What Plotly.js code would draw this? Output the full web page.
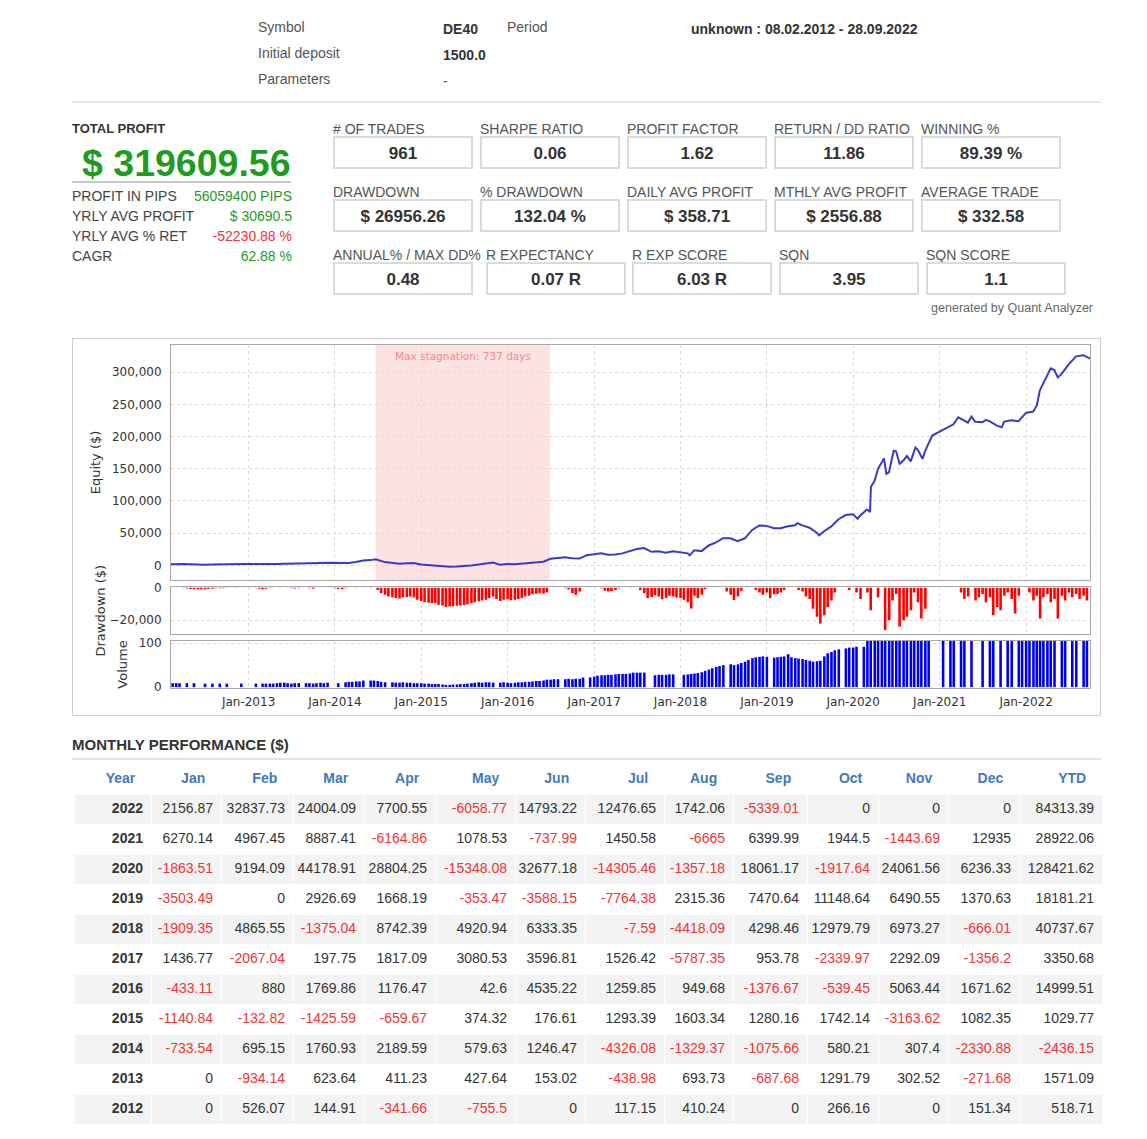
<!DOCTYPE html>
<html><head><meta charset="utf-8">
<script src="https://cdn.plot.ly/plotly-3.0.1.min.js"></script>
<style>
html,body{margin:0;padding:0;background:#fff;}
body{width:1147px;height:1139px;position:relative;overflow:hidden;font-family:'Liberation Sans',Arial,Helvetica,sans-serif;color:#333;}
.t{position:absolute;white-space:nowrap;line-height:20px;height:20px;}
.lab{font-size:14px;color:#555;}
.bold{font-weight:bold;color:#333;font-size:14px;}
.box{position:absolute;box-sizing:border-box;width:140px;height:33px;border:2px solid #dadada;text-align:center;line-height:32px;font-size:17px;font-weight:bold;color:#333;}
.hr{position:absolute;height:2px;background:#e6e6e6;}
#chartFrame{position:absolute;left:72px;top:338px;width:1029px;height:378px;box-sizing:border-box;border:1px solid #cfcfcf;}
#chart{position:absolute;left:73px;top:339px;width:1027px;height:376px;}
#table{position:absolute;left:74px;top:764px;width:1028px;height:375px;}
</style></head><body>
<div id="chartFrame"></div>
<div id="chart"></div>
<div id="table"></div>
<script>
// ---------------- header data ----------------
const headerInfo = [['Symbol', 'DE40'], ['Initial deposit', '1500.0'], ['Parameters', '-']];
const periodLabel = 'Period';
const periodValue = 'unknown : 08.02.2012 - 28.09.2022';
const totalProfitLabel = 'TOTAL PROFIT';
const totalProfit = '$ 319609.56';
const sideStats = [['PROFIT IN PIPS', '56059400 PIPS'], ['YRLY AVG PROFIT', '$ 30690.5'], ['YRLY AVG % RET', '-52230.88 %'], ['CAGR', '62.88 %']];
const boxStats1 = [['# OF TRADES', '961'], ['SHARPE RATIO', '0.06'], ['PROFIT FACTOR', '1.62'], ['RETURN / DD RATIO', '11.86'], ['WINNING %', '89.39 %']];
const boxStats2 = [['DRAWDOWN', '$ 26956.26'], ['% DRAWDOWN', '132.04 %'], ['DAILY AVG PROFIT', '$ 358.71'], ['MTHLY AVG PROFIT', '$ 2556.88'], ['AVERAGE TRADE', '$ 332.58']];
const boxStats3 = [['ANNUAL% / MAX DD%', '0.48'], ['R EXPECTANCY', '0.07 R'], ['R EXP SCORE', '6.03 R'], ['SQN', '3.95'], ['SQN SCORE', '1.1']];
const generatedBy = 'generated by Quant Analyzer';
const tableTitle = 'MONTHLY PERFORMANCE ($)';

// ---------------- equity curve ----------------
const eqDates = [
'2012-02-08','2012-02-29','2012-03-31','2012-04-30','2012-05-31','2012-06-30','2012-07-31','2012-08-31','2012-09-30','2012-10-31','2012-11-30','2012-12-31',
'2013-01-31','2013-02-28','2013-03-31','2013-04-30','2013-05-31','2013-06-30','2013-07-31','2013-08-31','2013-09-30','2013-10-31','2013-11-30','2013-12-31',
'2014-01-31','2014-02-28','2014-03-31','2014-04-30','2014-05-31','2014-06-22','2014-07-31','2014-08-31','2014-09-30','2014-10-31','2014-11-30','2014-12-31',
'2015-01-31','2015-02-28','2015-03-31','2015-04-30','2015-05-31','2015-06-30','2015-07-31','2015-08-31','2015-09-30','2015-10-31','2015-11-30','2015-12-31',
'2016-01-31','2016-02-29','2016-03-31','2016-04-30','2016-05-31','2016-06-30','2016-07-31','2016-08-31','2016-09-30','2016-10-31','2016-11-30','2016-12-31',
'2017-01-31','2017-02-28','2017-03-31','2017-04-30','2017-05-31','2017-06-30','2017-07-31','2017-08-31','2017-09-30','2017-10-31','2017-11-30','2017-12-31',
'2018-01-31','2018-02-09','2018-02-28','2018-03-31','2018-04-30','2018-05-31','2018-06-30','2018-07-31','2018-08-31','2018-09-30','2018-10-31','2018-11-30','2018-12-31',
'2019-01-31','2019-02-28','2019-03-31','2019-04-30','2019-05-10','2019-05-31','2019-06-30','2019-07-31','2019-08-10','2019-08-31','2019-09-30','2019-10-31','2019-11-30','2019-12-31',
'2020-01-20','2020-01-31','2020-02-28','2020-03-12','2020-03-16','2020-03-31','2020-04-15','2020-04-30','2020-05-10','2020-05-20','2020-05-31','2020-06-20','2020-06-30','2020-07-15','2020-07-31','2020-08-15','2020-08-31','2020-09-20','2020-09-30','2020-10-20','2020-10-31','2020-11-30','2020-12-31',
'2021-01-31','2021-02-28','2021-03-20','2021-03-31','2021-04-30','2021-05-15','2021-05-31','2021-06-30','2021-07-15','2021-07-31','2021-08-31','2021-09-20','2021-09-30','2021-10-31','2021-11-30','2021-12-31',
'2022-01-31','2022-02-15','2022-02-28','2022-03-15','2022-03-31','2022-04-15','2022-04-30','2022-05-15','2022-05-31','2022-06-30','2022-07-31','2022-08-31','2022-09-28'];
const eqValues = [
1500,2026,2171,1829,1074,1074,1191,1601,1601,1867,1867,2019,
2019,1085,1708,2120,2547,2700,2261,2955,2267,3559,3862,3590,
2856,3551,5312,7502,8081,9328,5002,3672,2597,3177,3484,1153,
12,-121,-1546,-2206,-1832,-1655,-362,1242,2522,4264,1100,2183,
1750,2630,4400,5576,5619,10154,11414,12364,10987,10447,15511,17183,
18620,16553,16750,18567,21648,25245,26771,20984,21938,19598,21890,20534,
18624,15500,23490,22115,30857,35778,42111,42104,37686,41984,54964,61937,61271,
57768,57768,60694,62362,65500,62009,58421,50657,46500,52972,60443,71591,78082,79452,
72400,77589,86783,83000,122000,130962,150000,159766,166000,142000,144418,178000,177095,157700,162790,170000,161433,183000,179494,165400,177576,201638,207874,
214144,219112,230000,227999,221834,231000,222913,222175,226000,223625,216960,214500,223360,225305,223861,236796,
238953,248000,271791,283000,295795,306000,303495,292000,297437,312230,324707,326449,321110];

// ---------------- drawdown & volume (semi-monthly samples) ----------------
const barDates = [
'2012-02-15','2012-03-01','2012-03-15','2012-04-01','2012-04-15','2012-05-01','2012-05-15','2012-06-01','2012-06-15','2012-07-01','2012-07-15','2012-08-01','2012-08-15','2012-09-01','2012-09-15','2012-10-01','2012-10-15','2012-11-01','2012-11-15','2012-12-01','2012-12-15',
'2013-01-01','2013-01-15','2013-02-01','2013-02-15','2013-03-01','2013-03-15','2013-04-01','2013-04-15','2013-05-01','2013-05-15','2013-06-01','2013-06-15','2013-07-01','2013-07-15','2013-08-01','2013-08-15','2013-09-01','2013-09-15','2013-10-01','2013-10-15','2013-11-01','2013-11-15','2013-12-01','2013-12-15',
'2014-01-01','2014-01-15','2014-02-01','2014-02-15','2014-03-01','2014-03-15','2014-04-01','2014-04-15','2014-05-01','2014-05-15','2014-06-01','2014-06-15','2014-07-01','2014-07-15','2014-08-01','2014-08-15','2014-09-01','2014-09-15','2014-10-01','2014-10-15','2014-11-01','2014-11-15','2014-12-01','2014-12-15',
'2015-01-01','2015-01-15','2015-02-01','2015-02-15','2015-03-01','2015-03-15','2015-04-01','2015-04-15','2015-05-01','2015-05-15','2015-06-01','2015-06-15','2015-07-01','2015-07-15','2015-08-01','2015-08-15','2015-09-01','2015-09-15','2015-10-01','2015-10-15','2015-11-01','2015-11-15','2015-12-01','2015-12-15',
'2016-01-01','2016-01-15','2016-02-01','2016-02-15','2016-03-01','2016-03-15','2016-04-01','2016-04-15','2016-05-01','2016-05-15','2016-06-01','2016-06-15','2016-07-01','2016-07-15','2016-08-01','2016-08-15','2016-09-01','2016-09-15','2016-10-01','2016-10-15','2016-11-01','2016-11-15','2016-12-01','2016-12-15',
'2017-01-01','2017-01-15','2017-02-01','2017-02-15','2017-03-01','2017-03-15','2017-04-01','2017-04-15','2017-05-01','2017-05-15','2017-06-01','2017-06-15','2017-07-01','2017-07-15','2017-08-01','2017-08-15','2017-09-01','2017-09-15','2017-10-01','2017-10-15','2017-11-01','2017-11-15','2017-12-01','2017-12-15',
'2018-01-01','2018-01-15','2018-02-01','2018-02-15','2018-03-01','2018-03-15','2018-04-01','2018-04-15','2018-05-01','2018-05-15','2018-06-01','2018-06-15','2018-07-01','2018-07-15','2018-08-01','2018-08-15','2018-09-01','2018-09-15','2018-10-01','2018-10-15','2018-11-01','2018-11-15','2018-12-01','2018-12-15',
'2019-01-01','2019-01-15','2019-02-01','2019-02-15','2019-03-01','2019-03-15','2019-04-01','2019-04-15','2019-05-01','2019-05-15','2019-06-01','2019-06-15','2019-07-01','2019-07-15','2019-08-01','2019-08-15','2019-09-01','2019-09-15','2019-10-01','2019-10-15','2019-11-01','2019-11-15','2019-12-01','2019-12-15',
'2020-01-01','2020-01-15','2020-02-01','2020-02-15','2020-03-01','2020-03-15','2020-04-01','2020-04-15','2020-05-01','2020-05-15','2020-06-01','2020-06-15','2020-07-01','2020-07-15','2020-08-01','2020-08-15','2020-09-01','2020-09-15','2020-10-01','2020-10-15','2020-11-01','2020-11-15','2020-12-01','2020-12-15',
'2021-01-01','2021-01-15','2021-02-01','2021-02-15','2021-03-01','2021-03-15','2021-04-01','2021-04-15','2021-05-01','2021-05-15','2021-06-01','2021-06-15','2021-07-01','2021-07-15','2021-08-01','2021-08-15','2021-09-01','2021-09-15','2021-10-01','2021-10-15','2021-11-01','2021-11-15','2021-12-01','2021-12-15',
'2022-01-01','2022-01-15','2022-02-01','2022-02-15','2022-03-01','2022-03-15','2022-04-01','2022-04-15','2022-05-01','2022-05-15','2022-06-01','2022-06-15','2022-07-01','2022-07-15','2022-08-01','2022-08-15','2022-09-01','2022-09-15'];
const drawdownValues = [
0,-200,0,-300,-600,-900,-1100,-1100,-1000,-1000,-900,-700,-500,-400,-500,-300,-200,-150,-300,0,-200,
0,-100,-300,-700,-1000,-700,-300,-100,0,-100,0,-200,-400,-600,-400,-100,0,-500,-700,-200,0,-100,-200,-300,
-400,-900,-1000,-500,-200,0,-300,0,-200,0,-300,0,-1500,-3500,-4500,-5500,-6000,-6500,-6700,-6000,-5800,-5500,-6000,-7500,
-8200,-9000,-9300,-9500,-9500,-10500,-11000,-12000,-11700,-11500,-11200,-11000,-10800,-10200,-9700,-9000,-8500,-8000,-7500,-6500,-5500,-7000,-8200,-7500,
-7200,-7800,-7500,-7000,-6500,-5500,-5000,-4200,-3800,-3500,-3700,-3000,0,0,0,0,-500,-1300,-3500,-4500,-2500,0,0,0,
0,0,-500,-2000,-2500,-2200,-1500,-500,0,0,-300,0,0,-1500,-3500,-6500,-5800,-4800,-5500,-7200,-6500,-5000,-5500,-6200,
-6500,-7500,-9000,-12800,-5000,-6500,-4500,-1000,0,0,0,0,0,-2500,-4500,-7700,-5500,-2000,0,0,0,-1500,-3000,-4500,
-3000,-6500,-4200,-4000,-3000,-1500,0,0,0,-1500,-2500,-5500,-7000,-13000,-18000,-22000,-17000,-12000,-8000,-3000,0,0,0,-1500,
0,-3000,-7000,0,-3000,-14000,0,-6000,0,-26000,-20000,-8000,-4000,-24000,-20000,-18000,-14000,-3000,-9000,-19000,-13000,0,0,0,
0,0,0,0,0,0,-3000,-7000,-5500,0,-8000,-6000,-4000,-9000,-6000,-17000,-12000,-14000,-5000,-3000,-7000,-16000,-5000,0,
0,-3000,-8000,-5000,-19000,-6000,-4000,-9000,-7000,-19000,-5000,-8000,-3000,-6000,-4000,-7000,-5000,-8000];
const volumeValues = [
9,9,9,0,9,0,9,0,0,8,0,8,0,8,0,8,0,0,0,8,0,
0,0,8,0,8,8,8,8,9,10,10,9,8,9,9,0,9,9,8,9,10,9,10,0,
0,9,0,11,12,12,13,13,15,0,15,15,14,12,11,0,11,10,10,11,10,10,9,9,
9,8,8,7,7,7,6,5,5,6,6,7,7,8,9,10,11,10,11,11,10,0,10,11,
10,9,10,11,11,12,12,13,14,14,15,17,17,18,18,0,18,19,18,19,19,22,0,22,
24,26,27,27,28,28,29,30,30,30,31,33,33,33,33,0,0,27,28,28,28,29,29,0,
0,28,29,30,31,32,34,37,40,43,46,48,50,0,52,50,52,55,58,62,66,68,69,70,
69,0,67,68,69,70,75,68,66,65,64,62,60,58,59,60,70,77,80,84,86,0,88,90,
90,92,0,92,110,110,110,110,110,110,110,110,110,110,110,110,110,110,110,110,110,110,0,0,
0,110,0,110,110,0,110,110,0,110,0,0,110,0,110,110,0,110,0,110,110,0,110,110,
110,110,110,110,110,110,110,110,110,0,110,110,0,110,110,0,110,110];

const periodStart = '2012-02-08';
const periodEnd = '2022-09-28';
const stagnationStart = '2014-06-22';
const stagnationEnd = '2016-06-28';
const stagnationDays = 737;

// ---------------- monthly performance table ----------------
const years = [2022, 2021, 2020, 2019, 2018, 2017, 2016, 2015, 2014, 2013, 2012];
const tableHeaders = ['Year', 'Jan', 'Feb', 'Mar', 'Apr', 'May', 'Jun', 'Jul', 'Aug', 'Sep', 'Oct', 'Nov', 'Dec', 'YTD'];
const jan = [2156.87, 6270.14, -1863.51, -3503.49, -1909.35, 1436.77, -433.11, -1140.84, -733.54, 0, 0];
const feb = [32837.73, 4967.45, 9194.09, 0, 4865.55, -2067.04, 880, -132.82, 695.15, -934.14, 526.07];
const mar = [24004.09, 8887.41, 44178.91, 2926.69, -1375.04, 197.75, 1769.86, -1425.59, 1760.93, 623.64, 144.91];
const apr = [7700.55, -6164.86, 28804.25, 1668.19, 8742.39, 1817.09, 1176.47, -659.67, 2189.59, 411.23, -341.66];
const may = [-6058.77, 1078.53, -15348.08, -353.47, 4920.94, 3080.53, 42.6, 374.32, 579.63, 427.64, -755.5];
const jun = [14793.22, -737.99, 32677.18, -3588.15, 6333.35, 3596.81, 4535.22, 176.61, 1246.47, 153.02, 0];
const jul = [12476.65, 1450.58, -14305.46, -7764.38, -7.59, 1526.42, 1259.85, 1293.39, -4326.08, -438.98, 117.15];
const aug = [1742.06, -6665, -1357.18, 2315.36, -4418.09, -5787.35, 949.68, 1603.34, -1329.37, 693.73, 410.24];
const sep = [-5339.01, 6399.99, 18061.17, 7470.64, 4298.46, 953.78, -1376.67, 1280.16, -1075.66, -687.68, 0];
const oct = [0, 1944.5, -1917.64, 11148.64, 12979.79, -2339.97, -539.45, 1742.14, 580.21, 1291.79, 266.16];
const nov = [0, -1443.69, 24061.56, 6490.55, 6973.27, 2292.09, 5063.44, -3163.62, 307.4, 302.52, 0];
const dec = [0, 12935, 6236.33, 1370.63, -666.01, -1356.2, 1671.62, 1082.35, -2330.88, -271.68, 151.34];
const ytd = [84313.39, 28922.06, 128421.62, 18181.21, 40737.67, 3350.68, 14999.51, 1029.77, -2436.15, 1571.09, 518.71];

// ---------------- render header (HTML text) ----------------
const GREEN = '#1f9b1f', RED = '#ee3535';
function addText(txt, left, cy, cls, extra) {
  const d = document.createElement('div');
  d.className = 't ' + (cls || '');
  d.textContent = txt;
  if (left !== null) d.style.left = left + 'px';
  d.style.top = (cy - 10) + 'px';
  if (extra) Object.assign(d.style, extra);
  document.body.appendChild(d);
  return d;
}
function addDiv(cls, style) {
  const d = document.createElement('div');
  d.className = cls;
  Object.assign(d.style, style);
  document.body.appendChild(d);
  return d;
}
const headerRowsY = [27, 53, 79];
headerInfo.forEach((h, i) => {
  addText(h[0], 258, headerRowsY[i], 'lab');
  addText(h[1], 443, headerRowsY[i] + 2, h[1] === '-' ? 'lab' : 'bold');
});
addText(periodLabel, 507, 27, 'lab');
addText(periodValue, 691, 29, 'bold');
addDiv('hr', {left: '72px', top: '101px', width: '1029px'});

addText(totalProfitLabel, 72, 129, 'bold', {fontSize: '13px'});
addText(totalProfit, 82, 163, '', {fontSize: '37.5px', fontWeight: 'bold', color: GREEN, lineHeight: '40px', height: '40px', top: '143px'});
addDiv('hr', {left: '72px', top: '181px', width: '219px', background: '#c8c8c8'});
const sideY = [196, 216, 236, 256];
sideStats.forEach((s, i) => {
  addText(s[0], 72, sideY[i], 'lab', {color: '#444'});
  addText(s[1], null, sideY[i], '', {right: (1147 - 292) + 'px', fontSize: '14px', color: s[1].trim().startsWith('-') ? RED : GREEN});
});

const boxRows = [
  {stats: boxStats1, labelY: 129, top: 136, lefts: [333, 480, 627, 774, 921]},
  {stats: boxStats2, labelY: 192, top: 199, lefts: [333, 480, 627, 774, 921]},
  {stats: boxStats3, labelY: 255, top: 262, lefts: [333, 486, 632, 779, 926]}
];
boxRows.forEach(r => {
  r.stats.forEach((s, i) => {
    addText(s[0], r.lefts[i], r.labelY, 'lab');
    const b = addDiv('box', {left: r.lefts[i] + 'px', top: r.top + 'px'});
    b.textContent = s[1];
  });
});
addText(generatedBy, null, 308, '', {right: (1147 - 1093) + 'px', fontSize: '12.5px', color: '#666'});

addText(tableTitle, 72, 745, '', {fontSize: '15px', fontWeight: 'bold', color: '#333'});
addDiv('hr', {left: '72px', top: '758px', width: '1029px', background: '#e4e4e4'});

// ---------------- chart ----------------
const gridCol = '#d9d9d9';
const axisFont = {family: 'DejaVu Sans', size: 12, color: '#333'};
const xCommon = {
  type: 'date', range: [periodStart, periodEnd], domain: [0.09542, 0.99026],
  showgrid: true, gridcolor: gridCol, griddash: '3px,3px', gridwidth: 1,
  dtick: 'M12', tick0: '2013-01-01', tickformat: '%b-%Y',
  showline: true, mirror: true, linecolor: '#a8a8a8', linewidth: 1,
  zeroline: false, ticks: '', tickfont: axisFont
};
const yCommon = {
  showgrid: true, gridcolor: gridCol, griddash: '3px,3px', gridwidth: 1,
  showline: true, mirror: true, linecolor: '#a8a8a8', linewidth: 1,
  zeroline: false, ticks: '', tickfont: axisFont, ticklabelstandoff: 6,
  fixedrange: true
};
const tEquity = {x: eqDates, y: eqValues, type: 'scatter', mode: 'lines', xaxis: 'x', yaxis: 'y',
  line: {color: '#3a3ac6', width: 2}, hoverinfo: 'skip'};
const tDD = {x: barDates, y: drawdownValues, type: 'bar', xaxis: 'x2', yaxis: 'y2',
  marker: {color: '#ff0000', line: {width: 0}}, hoverinfo: 'skip'};
const tVol = {x: barDates, y: volumeValues, type: 'bar', xaxis: 'x3', yaxis: 'y3',
  marker: {color: '#0000f0', line: {width: 0}}, hoverinfo: 'skip'};

const stagMid = new Date((new Date(stagnationStart).getTime() + new Date(stagnationEnd).getTime()) / 2).toISOString().slice(0, 10);
const layout = {
  width: 1027, height: 376,
  margin: {l: 0, r: 0, t: 0, b: 0},
  paper_bgcolor: '#ffffff', plot_bgcolor: '#ffffff',
  showlegend: false, bargap: 0.22,
  font: axisFont,
  xaxis: Object.assign({}, xCommon, {anchor: 'y', showticklabels: false}),
  xaxis2: Object.assign({}, xCommon, {anchor: 'y2', showticklabels: false}),
  xaxis3: Object.assign({}, xCommon, {anchor: 'y3', showticklabels: true, ticklabelstandoff: 3}),
  yaxis: Object.assign({}, yCommon, {domain: [0.35904, 0.98404], range: [-22800, 342300], dtick: 50000, tick0: 0, tickformat: ',d',
    title: {text: 'Equity ($)', standoff: 8, font: {family: 'DejaVu Sans', size: 13, color: '#333'}}}),
  yaxis2: Object.assign({}, yCommon, {domain: [0.21543, 0.3391], range: [-28500, 0], dtick: 20000, tick0: 0, tickformat: ',d',
    title: {text: 'Drawdown ($)', standoff: 0, font: {family: 'DejaVu Sans', size: 13, color: '#333'}}}),
  yaxis3: Object.assign({}, yCommon, {domain: [0.07181, 0.19681], range: [-2, 105], dtick: 100, tick0: 0,
    title: {text: 'Volume', standoff: 8, font: {family: 'DejaVu Sans', size: 13, color: '#333'}}}),
  shapes: [{type: 'rect', xref: 'x', yref: 'y domain', x0: stagnationStart, x1: stagnationEnd, y0: 0, y1: 1,
    fillcolor: '#fde2e2', line: {width: 0}, layer: 'below'}],
  annotations: [{xref: 'x', yref: 'y domain', x: stagMid, y: 1, yanchor: 'top', yshift: -3, showarrow: false,
    text: 'Max stagnation: ' + stagnationDays + ' days', font: {family: 'DejaVu Sans', size: 10.5, color: '#ee8c8c'}}]
};
Plotly.newPlot('chart', [tEquity, tDD, tVol], layout, {staticPlot: true, displayModeBar: false});

// ---------------- table ----------------
const monthCols = [jan, feb, mar, apr, may, jun, jul, aug, sep, oct, nov, dec, ytd];
const cellValues = [years].concat(monthCols);
const fontColors = [years.map(() => '#333333')].concat(monthCols.map(col => col.map(v => v < 0 ? RED : '#333333')));
const fontWeights = cellValues.map((c, i) => i === 0 ? 'bold' : 'normal');
const fillColors = cellValues.map(() => years.map((y, i) => i % 2 === 0 ? '#f3f3f3' : '#ffffff'));
const tTable = {
  type: 'table',
  columnwidth: [77, 70, 72, 71, 71, 80, 70, 79, 69, 74, 71, 70, 71, 83],
  header: {values: tableHeaders.map(h => h + '\u00a0\u00a0'), align: 'right', height: 30,
    font: {family: 'Liberation Sans', size: 14, color: '#4178be', weight: 'bold'},
    fill: {color: '#ffffff'}, line: {color: '#ffffff', width: 1}},
  cells: {values: cellValues, align: 'right', height: 30,
    font: {family: 'Liberation Sans', size: 14, color: fontColors, weight: fontWeights},
    fill: {color: fillColors}, line: {color: '#ffffff', width: 1}},
  domain: {x: [0, 1], y: [0, 1]}
};
Plotly.newPlot('table', [tTable], {width: 1028, height: 375, margin: {l: 0, r: 0, t: 0, b: 0}, paper_bgcolor: 'rgba(0,0,0,0)'},
  {staticPlot: true, displayModeBar: false});
</script>
</body></html>
